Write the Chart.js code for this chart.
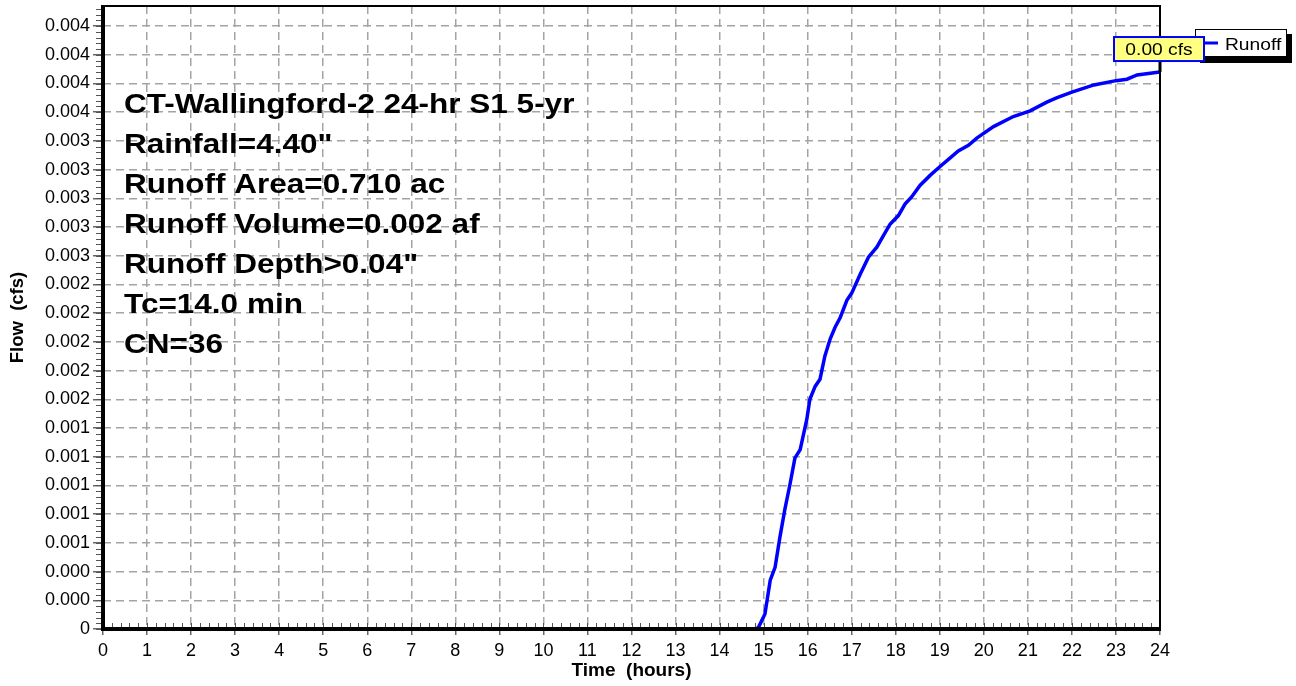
<!DOCTYPE html>
<html>
<head>
<meta charset="utf-8">
<script src="https://cdn.jsdelivr.net/npm/chart.js@4.4.1/dist/chart.umd.min.js"></script>
<style>
	html, body { margin: 0; padding: 0; background: #fff; }
	#wrap { width: 1296px; height: 686px; }
</style>
</head>
<body>
<div id="wrap"><canvas id="chart" width="1296" height="686"></canvas></div>
<script>

const timeHours = [0, 14.8, 14.88, 15.03, 15.15, 15.26, 15.37, 15.48, 15.6, 15.71, 15.83, 15.98,
	16.05, 16.17, 16.28, 16.39, 16.51, 16.62, 16.74, 16.89, 17.0, 17.19, 17.38, 17.57, 17.72, 17.87,
	18.06, 18.21, 18.36, 18.55, 18.78, 19.0, 19.23, 19.42, 19.65, 19.84, 20.22, 20.67, 21.05, 21.43,
	21.65, 22.0, 22.5, 23.0, 23.25, 23.48, 24.0]
const flowCfs = [0, 0, 0.00001, 0.000105, 0.00034, 0.00043, 0.00064, 0.00083, 0.00101, 0.00119, 0.00125, 0.00146,
	0.0016, 0.00169, 0.00174, 0.0019, 0.00202, 0.0021, 0.00217, 0.00229, 0.00234, 0.00247, 0.00259, 0.00266, 0.00274, 0.00282,
	0.00288, 0.00296, 0.00301, 0.00309, 0.00316, 0.00322, 0.00328, 0.00333, 0.00337, 0.00342, 0.0035, 0.00357, 0.00361, 0.00367,
	0.0037, 0.00374, 0.00379, 0.00382, 0.00383, 0.00386, 0.00388]

const xTicks = [0, 1, 2, 3, 4, 5, 6, 7, 8, 9, 10, 11, 12, 13, 14, 15, 16, 17, 18, 19, 20, 21, 22, 23, 24]
const yTicks = [0, 0.0002, 0.0004, 0.0006, 0.0008, 0.001, 0.0012, 0.0014, 0.0016, 0.0018, 0.002,
	0.0022, 0.0024, 0.0026, 0.0028, 0.003, 0.0032, 0.0034, 0.0036, 0.0038, 0.004, 0.0042]
const yTickLabels = ['0', '0.000', '0.000', '0.001', '0.001', '0.001', '0.001', '0.001', '0.002', '0.002', '0.002',
	'0.002', '0.002', '0.003', '0.003', '0.003', '0.003', '0.003', '0.004', '0.004', '0.004', '0.004']
const Y_MAX = 0.00434

const seriesName = 'Runoff'
const peakLabel = '0.00 cfs'
const infoLines = [
	'CT-Wallingford-2 24-hr S1 5-yr',
	'Rainfall=4.40"',
	'Runoff Area=0.710 ac',
	'Runoff Volume=0.002 af',
	'Runoff Depth>0.04"',
	'Tc=14.0 min',
	'CN=36',
]

// ── Helpers ─────────────────────────────────────────────────────────────────

const FONT = '"Liberation Sans", Arial, sans-serif'
const STRETCH = 1.13

function wideText(ctx, text, x, y, sx) {
	ctx.save()
	ctx.translate(x, y)
	ctx.scale(sx, 1)
	ctx.fillText(text, 0, 0)
	ctx.restore()
}

// minor ticks, frame, info block, legend and peak tag
const decorations = {
	id: 'decorations',
	afterDatasetsDraw(chart) {
		const { ctx, chartArea: a, scales } = chart
		const xs = scales.x
		const ys = scales.y
		ctx.save()

		// minor ticks
		ctx.strokeStyle = '#555'
		ctx.lineWidth = 1
		ctx.beginPath()
		for (let v = 0; v <= Y_MAX + 1e-9; v += 0.00004) {
			const py = Math.round(ys.getPixelForValue(v)) + 0.5
			ctx.moveTo(a.left - 7, py)
			ctx.lineTo(a.left, py)
		}
		for (let i = 0; i <= 24 * 5; i++) {
			const px = Math.round(xs.getPixelForValue(i / 5)) + 0.5
			ctx.moveTo(px, a.bottom)
			ctx.lineTo(px, a.bottom - 6)
		}
		ctx.stroke()

		// frame
		ctx.strokeStyle = '#000'
		ctx.lineWidth = 2
		ctx.beginPath()
		ctx.moveTo(a.left, a.top)
		ctx.lineTo(a.right, a.top)
		ctx.lineTo(a.right, a.bottom)
		ctx.stroke()
		ctx.lineWidth = 4
		ctx.beginPath()
		ctx.moveTo(a.left, a.top - 1)
		ctx.lineTo(a.left, a.bottom)
		ctx.lineTo(a.right + 1, a.bottom)
		ctx.stroke()
		ctx.restore()
	},
	afterDraw(chart) {
		const { ctx, scales } = chart
		const xs = scales.x
		const ys = scales.y
		ctx.save()

		// info block
		ctx.fillStyle = '#000'
		ctx.font = 'bold 28px ' + FONT
		ctx.textAlign = 'left'
		ctx.textBaseline = 'alphabetic'
		infoLines.forEach((line, i) => wideText(ctx, line, 124, 113 + i * 40, 1.125))

		// legend box
		ctx.fillStyle = '#000'
		ctx.fillRect(1200, 34, 92, 29)
		ctx.fillStyle = '#fff'
		ctx.fillRect(1195, 29, 92, 28)
		ctx.strokeStyle = '#000'
		ctx.lineWidth = 1
		ctx.strokeRect(1195.5, 29.5, 91, 27)
		ctx.strokeStyle = '#0000ff'
		ctx.lineWidth = 3
		ctx.beginPath()
		ctx.moveTo(1198, 43)
		ctx.lineTo(1218, 43)
		ctx.stroke()
		ctx.fillStyle = '#000'
		ctx.font = '17px ' + FONT
		wideText(ctx, seriesName, 1225, 50, STRETCH)

		// peak tag
		const last = flowCfs.length - 1
		const px = xs.getPixelForValue(timeHours[last])
		const py = ys.getPixelForValue(flowCfs[last])
		const boxB = py - 11
		ctx.strokeStyle = '#000'
		ctx.lineWidth = 3
		ctx.beginPath()
		ctx.moveTo(px, boxB)
		ctx.lineTo(px, py)
		ctx.stroke()
		ctx.fillStyle = '#ffff80'
		ctx.fillRect(px - 46, boxB - 24, 90, 24)
		ctx.strokeStyle = '#0000ff'
		ctx.lineWidth = 2
		ctx.strokeRect(px - 46, boxB - 24, 90, 24)
		ctx.fillStyle = '#000'
		ctx.textAlign = 'center'
		wideText(ctx, peakLabel, px - 1, boxB - 6.5, STRETCH)
		ctx.restore()
	},
}

// ── Chart ───────────────────────────────────────────────────────────────────

const gridColor = '#a4a4a4'

new Chart(document.getElementById('chart'), {
	type: 'line',
	data: {
		datasets: [
			{
				label: seriesName,
				data: timeHours.map((t, i) => ({ x: t, y: flowCfs[i] })),
				borderColor: '#0000ff',
				borderWidth: 3.5,
				pointRadius: 0,
				tension: 0,
				fill: false,
			},
		],
	},
	options: {
		responsive: false,
		animation: false,
		devicePixelRatio: 1,
		layout: { padding: { top: 6, right: 136, bottom: 0, left: 0 } },
		scales: {
			x: {
				type: 'linear',
				min: 0,
				max: 24,
				afterBuildTicks: s => { s.ticks = xTicks.map(v => ({ value: v })) },
				afterFit: s => {
					s.height = 57
					s.paddingLeft = 0
					s.paddingRight = 0
				},
				ticks: {
					autoSkip: false,
					maxRotation: 0,
					color: '#000',
					padding: 5,
					font: { size: 18, family: FONT },
					callback: (v, i) => String(xTicks[i]),
				},
				grid: { color: gridColor, lineWidth: 1.5, tickLength: 6, tickColor: '#666', tickWidth: 1.5 },
				border: { display: false, dash: [8, 5] },
				title: {
					display: true,
					text: 'Time  (hours)',
					color: '#000',
					font: { size: 19, weight: 'bold', family: FONT },
					padding: { top: 0, bottom: 4 },
				},
			},
			y: {
				type: 'linear',
				min: 0,
				max: Y_MAX,
				afterBuildTicks: s => { s.ticks = yTicks.map(v => ({ value: v })) },
				afterFit: s => {
					s.width = 103
					s.paddingTop = 0
					s.paddingBottom = 0
				},
				ticks: {
					autoSkip: false,
					color: '#000',
					padding: 3,
					font: { size: 18, family: FONT },
					callback: (v, i) => yTickLabels[i],
				},
				grid: { color: gridColor, lineWidth: 1.5, tickLength: 10, tickColor: '#666', tickWidth: 1.5 },
				border: { display: false, dash: [8, 5] },
				title: {
					display: true,
					text: 'Flow  (cfs)',
					color: '#000',
					font: { size: 18.5, weight: 'bold', family: FONT },
					padding: { top: 7, bottom: 0 },
				},
			},
		},
		plugins: {
			legend: { display: false },
			tooltip: { enabled: false },
		},
	},
	plugins: [decorations],
})
</script>
</body>
</html>
